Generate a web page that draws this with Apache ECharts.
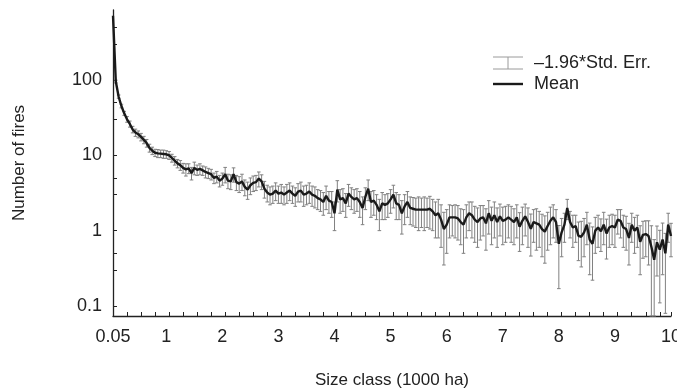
<!DOCTYPE html>
<html><head><meta charset="utf-8">
<script src="https://cdn.jsdelivr.net/npm/echarts@6/dist/echarts.min.js"></script>
<style>html,body{margin:0;padding:0;background:#fff}#c{width:677px;height:389px}</style>
</head><body><div id="c"></div>
<script>
const sizeClass = [
0.05,0.1,0.15,0.2,0.25,0.3,0.35,0.4,0.45,0.5,0.55,0.6,0.65,0.7,0.75,0.8,0.85,0.9,0.95,1,
1.05,1.1,1.15,1.2,1.25,1.3,1.35,1.4,1.45,1.5,1.55,1.6,1.65,1.7,1.75,1.8,1.85,1.9,1.95,2,
2.05,2.1,2.15,2.2,2.25,2.3,2.35,2.4,2.45,2.5,2.55,2.6,2.65,2.7,2.75,2.8,2.85,2.9,2.95,3,
3.05,3.1,3.15,3.2,3.25,3.3,3.35,3.4,3.45,3.5,3.55,3.6,3.65,3.7,3.75,3.8,3.85,3.9,3.95,4,
4.05,4.1,4.15,4.2,4.25,4.3,4.35,4.4,4.45,4.5,4.55,4.6,4.65,4.7,4.75,4.8,4.85,4.9,4.95,5,
5.05,5.1,5.15,5.2,5.25,5.3,5.35,5.4,5.45,5.5,5.55,5.6,5.65,5.7,5.75,5.8,5.85,5.9,5.95,6,
6.05,6.1,6.15,6.2,6.25,6.3,6.35,6.4,6.45,6.5,6.55,6.6,6.65,6.7,6.75,6.8,6.85,6.9,6.95,7,
7.05,7.1,7.15,7.2,7.25,7.3,7.35,7.4,7.45,7.5,7.55,7.6,7.65,7.7,7.75,7.8,7.85,7.9,7.95,8,
8.05,8.1,8.15,8.2,8.25,8.3,8.35,8.4,8.45,8.5,8.55,8.6,8.65,8.7,8.75,8.8,8.85,8.9,8.95,9,
9.05,9.1,9.15,9.2,9.25,9.3,9.35,9.4,9.45,9.5,9.55,9.6,9.65,9.7,9.75,9.8,9.85,9.9,9.95,10
];
const meanFires = [
710,95,60,45,36,30,26,22,20,19, 17.5,16,14.5,12.5,11.5,10.8,10.6,10.5,10.4,10.3,
10.0,9.2,8.5,7.8,7.4,6.8,6.5,6.7,5.8,6.8, 6.4,6.6,6.3,6.0,5.8,5.6,5.0,5.2,4.6,4.9,
5.6,4.6,4.5,5.6,4.4,4.2,4.5,3.8,3.5,4.0, 4.3,4.4,4.9,4.5,3.6,3.2,3.0,3.1,3.4,3.1,
3.2,3.0,3.2,3.4,3.1,2.9,3.3,3.4,3.0,3.1, 3.3,3.0,2.9,2.7,2.6,2.4,2.9,2.5,2.4,1.7,
3.5,2.6,2.7,2.3,3.1,2.8,2.6,2.7,2.4,2.0, 2.8,3.6,2.4,2.5,2.2,1.8,2.3,2.2,2.3,2.6,
3.0,2.3,2.2,1.7,2.1,2.4,2.0,1.95,1.9,1.9, 1.9,1.9,1.9,1.95,1.8,1.6,1.7,1.4,1.05,1.2,
1.5,1.5,1.5,1.45,1.3,1.2,1.5,1.7,1.6,1.4, 1.3,1.45,1.5,1.25,1.7,1.35,1.6,1.3,1.55,1.35,
1.4,1.5,1.4,1.3,1.5,1.13,1.35,1.55,1.3,1.06, 1.3,1.25,1.2,1.05,0.97,1.15,1.35,1.5,1.3,0.67,
0.95,1.2,2.0,1.3,1.1,1.15,0.85,0.83,0.95,1.2, 0.76,0.67,1.0,1.1,0.98,1.2,0.92,1.1,1.15,1.1,
1.4,1.35,1.1,1.05,0.8,1.2,1.0,1.1,0.71,0.88, 0.9,0.85,0.61,0.41,0.7,0.56,0.76,0.5,1.2,0.85
];
const errHalf = [
0,4,3,2.5,2.2,2.6,2.4,2.2,2.2,2.0, 2.0,1.8,1.7,1.5,1.3,1.2,1.3,1.2,1.3,1.2,
1.2,1.1,1.1,1.0,1.1,1.0,1.2,1.0,1.1,1.3, 1.0,1.1,0.9,1.0,0.9,0.9,0.8,0.9,0.8,0.9,
1.3,1.0,1.0,1.2,1.0,1.0,1.1,0.9,0.9,1.0, 1.0,1.0,1.1,1.0,0.9,0.8,0.8,0.8,0.9,0.8,
0.9,0.8,0.9,0.9,0.8,0.8,0.9,1.0,0.9,0.9, 1.0,0.9,0.9,0.8,0.8,0.8,1.0,0.8,0.9,0.7,
1.1,0.9,0.9,0.8,1.0,0.9,0.9,0.9,0.9,0.8, 0.9,1.1,0.9,0.9,0.8,0.8,0.9,0.8,0.8,0.9,
1.0,0.9,0.8,0.8,0.9,0.9,0.8,0.8,0.8,0.9, 0.8,0.9,0.8,0.9,0.8,0.8,0.9,0.8,0.7,0.7,
0.7,0.65,0.7,0.7,0.65,0.7,0.7,0.7,0.8,0.7, 0.7,0.7,0.65,0.7,0.8,0.7,0.8,0.7,0.7,0.7,
0.7,0.7,0.7,0.65,0.7,0.6,0.7,0.7,0.7,0.6, 0.6,0.7,0.6,0.6,0.6,0.6,0.7,0.7,0.6,0.5,
0.5,0.5,0.6,0.5,0.5,0.45,0.45,0.5,0.5,0.55, 0.5,0.45,0.5,0.5,0.45,0.55,0.5,0.5,0.5,0.5,
0.5,0.55,0.5,0.5,0.45,0.5,0.5,0.5,0.45,0.45, 0.45,0.5,0.55,0.35,0.45,0.45,0.5,0.42,0.5,0.4
];
const xLabelValues = ['0.05','1','2','3','4','5','6','7','8','9','10'];
const yLabelValues = [0.1, 1, 10, 100];
const yTickValues = [0.1, 0.3, 0.5, 1, 3, 5, 10, 30, 50, 100, 300, 500];
const yMin = 0.0737, yMax = 845;

const FONT = 'Liberation Sans, Arial, Helvetica, sans-serif';
const chart = echarts.init(document.getElementById('c'), null, {renderer: 'canvas'});

const errData = sizeClass.map((s, k) => [k, Math.max(yMin, meanFires[k] - errHalf[k]), meanFires[k] + errHalf[k]]);

chart.setOption({
  animation: false,
  backgroundColor: '#fff',
  grid: {left: 113, right: 6, top: 10, bottom: 73, containLabel: false, outerBoundsMode: 'none'},
  xAxis: {
    type: 'category',
    data: sizeClass.map(String),
    boundaryGap: false,
    name: 'Size class (1000 ha)',
    nameLocation: 'middle',
    nameGap: 56,
    nameTextStyle: {fontFamily: FONT, fontSize: 17, color: '#222'},
    axisLine: {show: true, lineStyle: {color: '#222', width: 1.3}},
    axisTick: {show: true, inside: true, length: 4, lineStyle: {color: '#222'},
      interval: (idx) => idx % 5 === 0 || idx === sizeClass.length - 1},
    axisLabel: {fontFamily: FONT, fontSize: 18, color: '#222', margin: 12,
      interval: (idx, val) => xLabelValues.indexOf(String(val)) >= 0},
    splitLine: {show: false}
  },
  yAxis: {
    type: 'log',
    logBase: 10,
    min: yMin, max: yMax,
    name: 'Number of fires',
    nameLocation: 'middle',
    nameGap: 85,
    nameTextStyle: {fontFamily: FONT, fontSize: 17, color: '#222'},
    axisLine: {show: true, lineStyle: {color: '#222', width: 1.3}},
    axisTick: {show: true, inside: true, length: 4, lineStyle: {color: '#222'}, customValues: yTickValues},
    axisLabel: {fontFamily: FONT, fontSize: 18, color: '#222', margin: 11, customValues: yLabelValues,
      formatter: (v) => String(+v)},
    splitLine: {show: false},
    minorTick: {show: false}
  },
  series: [
    {
      name: '–1.96*Std. Err.',
      type: 'custom',
      encode: {x: 0, y: [1, 2]},
      data: errData,
      z: 2,
      renderItem: (params, api) => {
        const i = api.value(0), lo = api.value(1), hi = api.value(2);
        if (hi - lo <= 0 || errHalf[i] === 0) return null;
        const p1 = api.coord([i, hi]), p2 = api.coord([i, lo]);
        const w = 1.8, st = {stroke: '#808080', lineWidth: 1};
        return {type: 'group', children: [
          {type: 'line', shape: {x1: p1[0], y1: p1[1], x2: p2[0], y2: p2[1]}, style: st},
          {type: 'line', shape: {x1: p1[0] - w, y1: p1[1], x2: p1[0] + w, y2: p1[1]}, style: st},
          {type: 'line', shape: {x1: p2[0] - w, y1: p2[1], x2: p2[0] + w, y2: p2[1]}, style: st}
        ]};
      }
    },
    {
      name: 'Mean',
      type: 'line',
      data: meanFires,
      showSymbol: false,
      z: 5,
      lineStyle: {color: '#1a1a1a', width: 2.4}
    }
  ],
  graphic: [
    {type: 'line', shape: {x1: 493, y1: 57, x2: 523, y2: 57}, style: {stroke: '#9a9a9a', lineWidth: 1}},
    {type: 'line', shape: {x1: 493, y1: 69, x2: 523, y2: 69}, style: {stroke: '#9a9a9a', lineWidth: 1}},
    {type: 'line', shape: {x1: 508, y1: 57, x2: 508, y2: 69}, style: {stroke: '#9a9a9a', lineWidth: 1}},
    {type: 'text', left: 534, top: 54, style: {text: '–1.96*Std. Err.', font: '18px ' + FONT, fill: '#222'}},
    {type: 'line', shape: {x1: 493, y1: 84, x2: 523, y2: 84}, style: {stroke: '#1a1a1a', lineWidth: 2.4}},
    {type: 'text', left: 534, top: 75, style: {text: 'Mean', font: '18px ' + FONT, fill: '#222'}}
  ]
});
</script>
</body></html>
